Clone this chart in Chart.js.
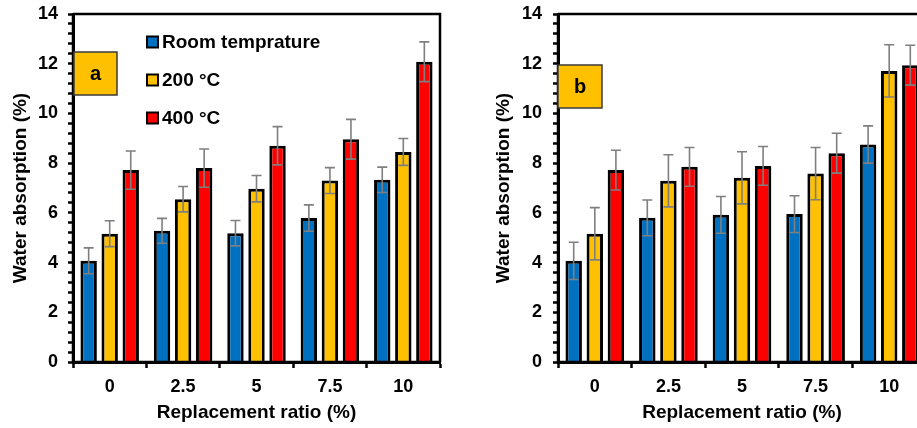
<!DOCTYPE html>
<html>
<head>
<meta charset="utf-8">
<script src="https://cdn.jsdelivr.net/npm/chart.js@4.4.1/dist/chart.umd.min.js"></script>
<style>
  html, body { margin: 0; padding: 0; background: #fff; overflow: hidden; width: 917px; height: 428px; }
  canvas { position: absolute; top: 0; }
  #chartA { left: 0; }
  #chartB { left: 460px; }
</style>
</head>
<body>
<canvas id="chartA" width="460" height="428"></canvas>
<canvas id="chartB" width="470" height="428"></canvas>
<script>
const categories = ['0', '2.5', '5', '7.5', '10'];
const seriesNames = ['Room temprature', '200 °C', '400 °C'];
const seriesColors = ['#0070C0', '#FFC000', '#FF0000'];

// panel a
const roomA = [4.07, 5.28, 5.18, 5.79, 7.33];
const c200A = [5.16, 6.55, 6.97, 7.30, 8.45];
const c400A = [7.72, 7.80, 8.70, 8.96, 12.08];
const roomErrA = [0.52, 0.50, 0.51, 0.53, 0.51];
const c200ErrA = [0.52, 0.51, 0.53, 0.52, 0.54];
const c400ErrA = [0.77, 0.77, 0.77, 0.80, 0.80];

// panel b
const roomB = [4.07, 5.80, 5.92, 5.95, 8.75];
const c200B = [5.16, 7.29, 7.41, 7.58, 11.71];
const c400B = [7.72, 7.85, 7.89, 8.40, 11.94];
const roomErrB = [0.75, 0.72, 0.74, 0.74, 0.75];
const c200ErrB = [1.05, 1.05, 1.05, 1.05, 1.05];
const c400ErrB = [0.80, 0.78, 0.78, 0.80, 0.80];

const yMax = 14;
const yMinorStep = 0.4;
const yLabelStep = 2;

const FONT = 'Liberation Sans, Arial, sans-serif';

// error bars drawn on top of the bars
const errorBars = {
    id: 'errorBars',
    afterDatasetsDraw(chart) {
        const ctx = chart.ctx;
        const y = chart.scales.y;
        ctx.save();
        ctx.strokeStyle = '#7f7f7f';
        ctx.lineWidth = 1.6;
        chart.data.datasets.forEach((ds, di) => {
            const meta = chart.getDatasetMeta(di);
            meta.data.forEach((bar, i) => {
                const v = ds.data[i], e = ds.errors[i];
                const top = y.getPixelForValue(v + e);
                const bot = y.getPixelForValue(v - e);
                ctx.beginPath();
                ctx.moveTo(bar.x, top); ctx.lineTo(bar.x, bot);
                ctx.moveTo(bar.x - 5, top); ctx.lineTo(bar.x + 5, top);
                ctx.moveTo(bar.x - 5, bot); ctx.lineTo(bar.x + 5, bot);
                ctx.stroke();
            });
        });
        ctx.restore();
    }
};

// frame, inner legend and panel letter
const decorations = {
    id: 'decorations',
    afterDraw(chart, args, opts) {
        const ctx = chart.ctx;
        const a = chart.chartArea;
        ctx.save();
        ctx.strokeStyle = '#000';
        ctx.lineWidth = 2.5;
        ctx.beginPath();
        ctx.moveTo(a.left, a.top); ctx.lineTo(a.right, a.top); ctx.lineTo(a.right, a.bottom);
        ctx.moveTo(a.left, a.top); ctx.lineTo(a.left, a.bottom); ctx.lineTo(a.right, a.bottom);
        ctx.stroke();

        // legend
        ctx.font = 'bold 19px ' + FONT;
        ctx.textBaseline = 'middle';
        ctx.textAlign = 'left';
        chart.data.datasets.forEach((ds, i) => {
            const cy = opts.legendY + i * opts.legendGap;
            ctx.fillStyle = ds.backgroundColor;
            ctx.fillRect(opts.legendX, cy - 5.5, 11, 11);
            ctx.lineWidth = 2;
            ctx.strokeStyle = '#000';
            ctx.strokeRect(opts.legendX, cy - 5.5, 11, 11);
            ctx.fillStyle = '#000';
            ctx.fillText(ds.label, opts.legendX + 15, cy + 1);
        });

        // panel letter box
        const b = opts.box;
        ctx.fillStyle = '#FFC000';
        ctx.fillRect(b.x, b.y, b.w, b.h);
        ctx.lineWidth = 1.5;
        ctx.strokeStyle = '#3a3a3a';
        ctx.strokeRect(b.x, b.y, b.w, b.h);
        ctx.fillStyle = '#000';
        ctx.font = 'bold 20px ' + FONT;
        ctx.textAlign = 'center';
        ctx.fillText(opts.letter, b.x + b.w / 2, b.y + b.h / 2 + 1);
        ctx.restore();
    }
};

function makeChart(id, values, errors, cfg) {
    const ctx = document.getElementById(id).getContext('2d');
    return new Chart(ctx, {
        type: 'bar',
        data: {
            labels: categories,
            datasets: values.map((vals, i) => ({
                label: seriesNames[i],
                data: vals,
                errors: errors[i],
                backgroundColor: seriesColors[i],
                borderColor: '#000',
                borderWidth: 3,
                borderSkipped: 'start',
                categoryPercentage: 0.86,
                barPercentage: 0.78,
            }))
        },
        options: {
            responsive: false,
            animation: false,
            layout: { padding: { left: 0, top: 14, right: cfg.padRight, bottom: 0 } },
            plugins: {
                legend: { display: false },
                tooltip: { enabled: false },
                decorations: cfg.deco,
            },
            scales: {
                x: {
                    grid: { display: true, drawOnChartArea: false, offset: true, tickLength: 6, tickColor: '#000', tickWidth: 2.5 },
                    border: { display: true, color: '#000', width: 3 },
                    ticks: { color: '#000', padding: 8, font: { family: FONT, size: 18, weight: 'bold' } },
                    title: { display: true, text: 'Replacement ratio (%)', color: '#000',
                        padding: { top: 0, bottom: 4 }, font: { family: FONT, size: 19, weight: 'bold' } },
                    afterFit(scale) { scale.height = 66; }
                },
                y: {
                    min: 0, max: yMax,
                    grid: { display: true, drawOnChartArea: false, tickLength: 5, tickColor: '#000', tickWidth: 2.5 },
                    border: { display: true, color: '#000', width: 3 },
                    ticks: {
                        stepSize: yMinorStep, autoSkip: false, maxTicksLimit: 100,
                        color: '#000', padding: cfg.yTickPad,
                        font: { family: FONT, size: 18, weight: 'bold' },
                        callback: (v) => {
                            const r = Math.round(v);
                            return (Math.abs(v - r) < 1e-6 && r % yLabelStep === 0) ? String(r) : '';
                        }
                    },
                    title: { display: true, text: 'Water absorption (%)', color: '#000',
                        padding: { top: cfg.yTitlePad, bottom: 0 }, font: { family: FONT, size: 19, weight: 'bold' } },
                    afterFit(scale) {
                        scale.width = cfg.yWidth;
                        scale.paddingTop = 0;
                        scale.paddingBottom = 0;
                    }
                }
            }
        },
        plugins: [errorBars, decorations]
    });
}

makeChart('chartA', [roomA, c200A, c400A], [roomErrA, c200ErrA, c400ErrA], {
    padRight: 20, yWidth: 73, yTickPad: 10, yTitlePad: 9,
    deco: { legendX: 147, legendY: 42, legendGap: 38, letter: 'a', box: { x: 74, y: 52, w: 43, h: 43 } }
});

makeChart('chartB', [roomB, c200B, c400B], [roomErrB, c200ErrB, c400ErrB], {
    padRight: 4, yWidth: 98, yTickPad: 11, yTitlePad: 32,
    deco: { legendX: 649, legendY: 35, legendGap: 38.5, letter: 'b', box: { x: 98, y: 65, w: 44, h: 43 } }
});
</script>
</body>
</html>
